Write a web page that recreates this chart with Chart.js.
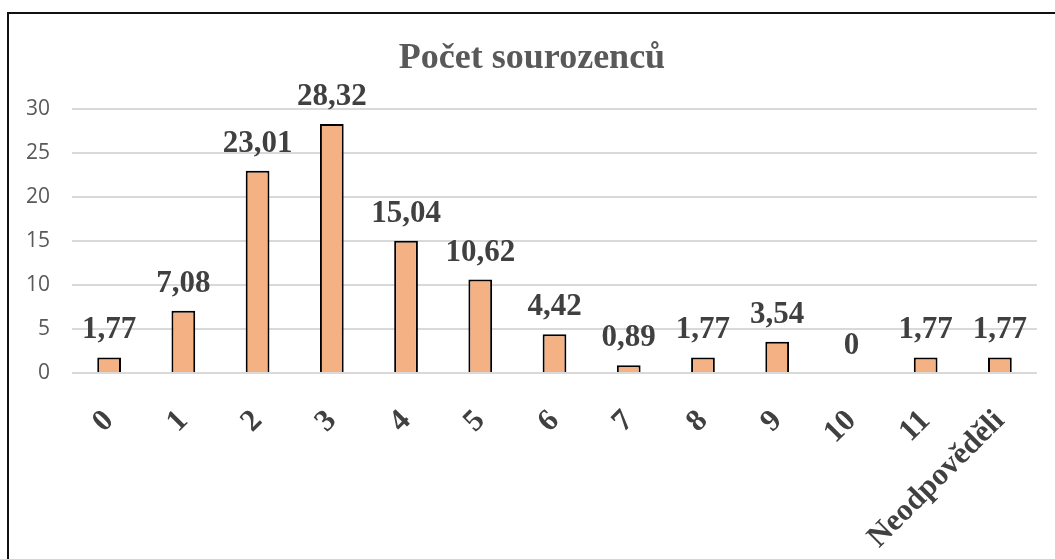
<!DOCTYPE html>
<html>
<head>
<meta charset="utf-8">
<script src="https://cdn.jsdelivr.net/npm/chart.js@4"></script>
<style>
  html, body { margin: 0; padding: 0; background: #fff; overflow: hidden; }
  #wrap { position: absolute; left: 0; top: 0; width: 1055px; height: 559px; }
  #frame { position: absolute; left: 7px; top: 12px; width: 1200px; height: 700px; border: 2px solid #111; pointer-events: none; }
</style>
</head>
<body>
<div id="wrap"><canvas id="myChart"></canvas></div>
<div id="frame"></div>
<script>
const categories = ['0', '1', '2', '3', '4', '5', '6', '7', '8', '9', '10', '11', 'Neodpověděli'];
const values = [1.77, 7.08, 23.01, 28.32, 15.04, 10.62, 4.42, 0.89, 1.77, 3.54, 0, 1.77, 1.77];
const yTicks = [0, 5, 10, 15, 20, 25, 30];

const serif = '"Liberation Serif", "DejaVu Serif", serif';
const sans = '"Open Sans", "Noto Sans", sans-serif';

// popisky hodnot nad sloupci
const valueLabels = {
    id: 'valueLabels',
    afterDatasetsDraw(chart) {
        const ctx = chart.ctx;
        const meta = chart.getDatasetMeta(0);
        ctx.save();
        ctx.font = 'bold 31px ' + serif;
        ctx.fillStyle = '#404040';
        ctx.textAlign = 'center';
        ctx.textBaseline = 'alphabetic';
        meta.data.forEach((bar, i) => {
            const txt = String(values[i]).replace('.', ',');
            ctx.fillText(txt, bar.x, bar.y - 19);
        });
        ctx.restore();
    }
};

const data = {
    labels: categories,
    datasets: [{
        data: values,
        backgroundColor: '#F4B183',
        borderColor: '#000000',
        borderWidth: 2,
        barPercentage: 0.32,
        categoryPercentage: 1
    }]
};

const config = {
    type: 'bar',
    data: data,
    plugins: [valueLabels],
    options: {
        responsive: true,
        maintainAspectRatio: false,
        animation: false,
        layout: {
            padding: { top: 25, left: 27, right: 18, bottom: 0 }
        },
        scales: {
            x: {
                grid: { display: false },
                border: { display: false },
                afterFit(scale) {
                    scale.paddingLeft = 0;
                    scale.paddingRight = 0;
                    scale.height = 186;
                },
                ticks: {
                    color: '#404040',
                    font: { family: serif, size: 31, weight: 'bold' },
                    minRotation: 45,
                    maxRotation: 45,
                    padding: 22,
                    autoSkip: false
                }
            },
            y: {
                min: 0,
                max: 30,
                afterBuildTicks(axis) {
                    axis.ticks = yTicks.map(v => ({ value: v }));
                },
                afterFit(scale) {
                    scale.width = 45;
                },
                grid: {
                    color: '#d9d9d9',
                    lineWidth: 2,
                    drawTicks: false
                },
                border: { display: false },
                ticks: {
                    color: '#595959',
                    font: { family: sans, size: 21 },
                    padding: 22
                }
            }
        },
        plugins: {
            legend: { display: false },
            tooltip: { enabled: false },
            title: {
                display: true,
                text: 'Počet sourozenců',
                color: '#595959',
                font: { family: serif, size: 36, weight: 'bold' },
                padding: { top: 12, bottom: 29 }
            }
        }
    }
};

Promise.all([
    document.fonts.load('bold 31px "Liberation Serif"', 'Počet 0,89'),
    document.fonts.load('21px "Open Sans"', '30')
]).catch(() => {}).then(() => {
    const myChart = new Chart('myChart', config);
});
</script>
</body>
</html>
